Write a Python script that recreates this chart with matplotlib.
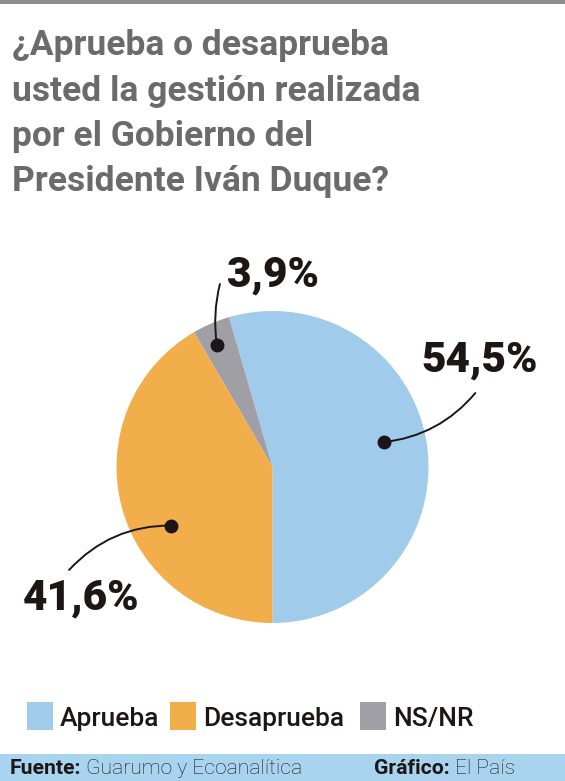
import numpy as np
import matplotlib
matplotlib.use("Agg")
import matplotlib.pyplot as plt
from matplotlib.patches import Rectangle

W, H = 565, 781

title_lines = [
    "¿Aprueba o desaprueba",
    "usted la gestión realizada",
    "por el Gobierno del",
    "Presidente Iván Duque?",
]

# pie order (counter-clockwise from the bottom)
slice_names = ["Aprueba", "NS/NR", "Desaprueba"]
slice_values = [54.5, 3.9, 41.6]
slice_labels = ["54,5%", "3,9%", "41,6%"]
slice_colors = ["#a0cbeb", "#a09fa5", "#f2ae4b"]

legend_names = ["Aprueba", "Desaprueba", "NS/NR"]

FONT = "Roboto"
TITLE_GRAY = "#6b6b6b"
INK = "#1e1616"

fig = plt.figure(figsize=(W / 100, H / 100), dpi=100)
fig.patch.set_facecolor("white")

# pixel overlay for title, legend, footer
ov = fig.add_axes([0, 0, 1, 1])
ov.set_xlim(0, W)
ov.set_ylim(H, 0)
ov.axis("off")

ov.add_patch(Rectangle((0, 0), W, 3.5, color="#8c8c8c", lw=0))

for i, line in enumerate(title_lines):
    ov.text(12, 55 + i * 45.5, line, fontsize=25.5, fontweight="bold",
            family=FONT, color=TITLE_GRAY, ha="left", va="baseline")

# pie
cx, cy, r = 272.5, 467, 156
pie_ax = fig.add_axes([(cx - r) / W, (H - cy - r) / H, 2 * r / W, 2 * r / H])
wedges, _ = pie_ax.pie(slice_values, colors=slice_colors, startangle=-90,
                       counterclock=True,
                       wedgeprops=dict(linewidth=0))
pie_ax.set_xlim(-1, 1)
pie_ax.set_ylim(-1, 1)
pie_ax.set_aspect("equal")
pie_ax.axis("off")

# leader: (dot angle deg, dot radius, line end, text centre, rad)
leaders = [
    (12.6, 0.73, (1.30, 0.474), (1.33, 0.686), -0.2),
    (114.5, 0.86, (-0.337, 1.173), (0.003, 1.23), 0.1),
    (210.0, 0.75, (-1.304, -0.66), (-1.228, -0.84), -0.22),
]
for lab, (ang, rr, end, tpos, rad) in zip(slice_labels, leaders):
    a = np.deg2rad(ang)
    dot = (rr * np.cos(a), rr * np.sin(a))
    pie_ax.annotate("", xy=dot, xytext=end, annotation_clip=False,
                    arrowprops=dict(arrowstyle="-", color=INK, lw=1.4,
                                    shrinkA=0, shrinkB=0,
                                    connectionstyle=f"arc3,rad={rad}"))
    pie_ax.plot(*dot, "o", ms=9, color=INK, clip_on=False, zorder=5)
    pie_ax.text(*tpos, lab, fontsize=30.5, fontweight="black", family=FONT,
                color=INK, ha="center", va="center", clip_on=False)

# legend
leg_x = [27, 170, 360]
col_of = dict(zip(slice_names, slice_colors))
for x, name in zip(leg_x, legend_names):
    ov.add_patch(Rectangle((x, 702), 26, 28, color=col_of[name], lw=0))
    ov.text(x + 33, 726, name, fontsize=19, fontweight="medium", family=FONT,
            color=INK, ha="left", va="baseline")

# footer
ov.add_patch(Rectangle((0, 754), W, H - 754, color="#a8d4f0", lw=0))
t = ov.text(10, 774, "Fuente:", fontsize=15.2, fontweight="bold", family=FONT,
            color=INK, ha="left", va="baseline")
ov.annotate(" Guarumo y Ecoanalítica", xycoords=t, xy=(1, 0), va="bottom",
            fontsize=15.2, fontweight="light", family=FONT, color=INK)
t2 = ov.text(515, 774, "El País", fontsize=15.2, fontweight="light",
             family=FONT, color=INK, ha="right", va="baseline")
ov.annotate("Gráfico: ", xycoords=t2, xy=(0, 0), ha="right", va="bottom",
            fontsize=15.2, fontweight="bold", family=FONT, color=INK)

fig.savefig("out.png", dpi=100)
